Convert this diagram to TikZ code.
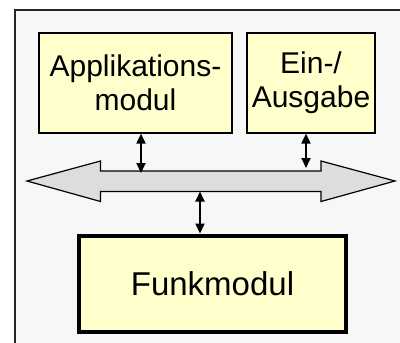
\documentclass[tikz,border=0pt]{standalone}
\usepackage{fontspec}
\setmainfont{Liberation Sans}
\usetikzlibrary{arrows.meta, positioning}

\definecolor{modulfill}{HTML}{FFFFCC}
\definecolor{panelfill}{HTML}{F7F7F7}
\definecolor{busfill}{HTML}{DDDDDD}

\tikzset{
  modulbox/.style={draw=black, fill=modulfill, line width=1.2pt, align=center,
    inner sep=0pt, font=\fontsize{30}{34}\selectfont},
  linkarrow/.style={line width=1.8pt, {Triangle[width=9pt,length=10pt]}-{Triangle[width=9pt,length=10pt]}}
}

\begin{document}
\begin{tikzpicture}[x=1pt, y=-1pt, line join=miter]
\useasboundingbox (0,0) rectangle (400,343);

% Panel behind everything, cut off at the right and bottom
\begin{scope}
\clip (0,0) rectangle (400,343);
\draw[fill=panelfill, draw=black!85, line width=1.2pt] (15,10) rectangle (410,353);
\end{scope}

% Modules
\node[modulbox, minimum width=193pt, minimum height=100pt] (app) at (135.5,83) {Applikations-\\modul};
\node[modulbox, minimum width=128pt, minimum height=100pt] (io) at (311,83) {Ein-/\\Ausgabe};
\node[modulbox, line width=4pt, minimum width=267pt, minimum height=96pt,
  font=\fontsize{33}{38}\selectfont] (funk) at (212.5,283.5) {Funkmodul};

% Bus as a double arrow
\draw[fill=busfill, draw=black, line width=1.2pt]
  (27,181) -- (100.5,161) -- (100.5,171) -- (321,171) -- (321,161) -- (395,181)
  -- (321,201.5) -- (321,191.5) -- (100.5,191.5) -- (100.5,201.5) -- cycle;
\coordinate (busapp) at (141,173);
\coordinate (busio) at (306,168);
\coordinate (busfunk) at (200,191.5);

% Links between modules and bus
\draw[linkarrow] (busapp |- app.south) -- (busapp);
\draw[linkarrow] (busio |- io.south) -- (busio);
\draw[linkarrow] (busfunk) -- (busfunk |- funk.north);
\end{tikzpicture}
\end{document}
